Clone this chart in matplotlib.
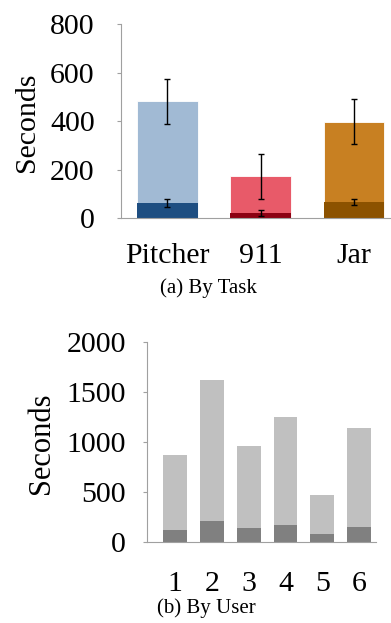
import numpy as np
import matplotlib.pyplot as plt

# (a) By Task
tasks = ['Pitcher', '911', 'Jar']
task_total = [482, 173, 398]
task_total_err = [93, 93, 93]
task_part = [62, 21, 66]
task_part_err = [15, 14, 12]
task_light = ['#a1bad4', '#e85a69', '#c88022']
task_dark = ['#1e4e81', '#8c0012', '#8c5200']

# (b) By User
users = ['1', '2', '3', '4', '5', '6']
user_total = [873, 1617, 963, 1247, 470, 1137]
user_part = [120, 213, 143, 167, 77, 153]

plt.rcParams['font.family'] = 'Liberation Serif'
spine_col = '#a0a0a0'

fig = plt.figure(figsize=(3.91, 6.23), dpi=100)

def style(ax, xpad, ypad):
    for s in ['top', 'right']:
        ax.spines[s].set_visible(False)
    ax.spines['left'].set_color(spine_col)
    ax.spines['bottom'].set_color(spine_col)
    ax.tick_params(axis='y', length=3, color=spine_col, pad=ypad, labelsize=21.5)
    ax.tick_params(axis='x', length=0, pad=xpad, labelsize=21.5)

# top panel
ax1 = fig.add_axes([0.3095, 0.650, 0.688, 0.3114])
x = np.arange(len(tasks))
ax1.bar(x, task_total, width=0.65, color=task_light, edgecolor='white', linewidth=0.6)
ax1.bar(x, task_part, width=0.65, color=task_dark)
ax1.errorbar(x, task_total, yerr=task_total_err, fmt='none', ecolor='black',
             elinewidth=1, capsize=2.5, capthick=1)
ax1.errorbar(x, task_part, yerr=task_part_err, fmt='none', ecolor='black',
             elinewidth=1, capsize=2.5, capthick=1)
ax1.set_xlim(-0.498, 2.385)
ax1.set_ylim(0, 800)
ax1.set_yticks([0, 200, 400, 600, 800])
ax1.set_xticks(x)
ax1.set_xticklabels(tasks)
style(ax1, 18, 16)
fig.text(0.069, 0.804, 'Seconds', rotation=90, ha='center', va='center', fontsize=21.5)
fig.text(0.532, 0.538, '(a) By Task', ha='center', va='center', fontsize=15)

# bottom panel
ax2 = fig.add_axes([0.376, 0.130, 0.586, 0.321])
x2 = np.arange(len(users))
ax2.bar(x2, user_total, width=0.65, color='#c0c0c0')
ax2.bar(x2, user_part, width=0.65, color='#808080')
ax2.set_xlim(-0.76, 5.46)
ax2.set_ylim(0, 2000)
ax2.set_yticks([0, 500, 1000, 1500, 2000])
ax2.set_xticks(x2)
ax2.set_xticklabels(users)
style(ax2, 21, 12)
fig.text(0.107, 0.289, 'Seconds', rotation=90, ha='center', va='center', fontsize=22)
fig.text(0.529, 0.024, '(b) By User', ha='center', va='center', fontsize=15)

fig.savefig('out.png', dpi=100)
